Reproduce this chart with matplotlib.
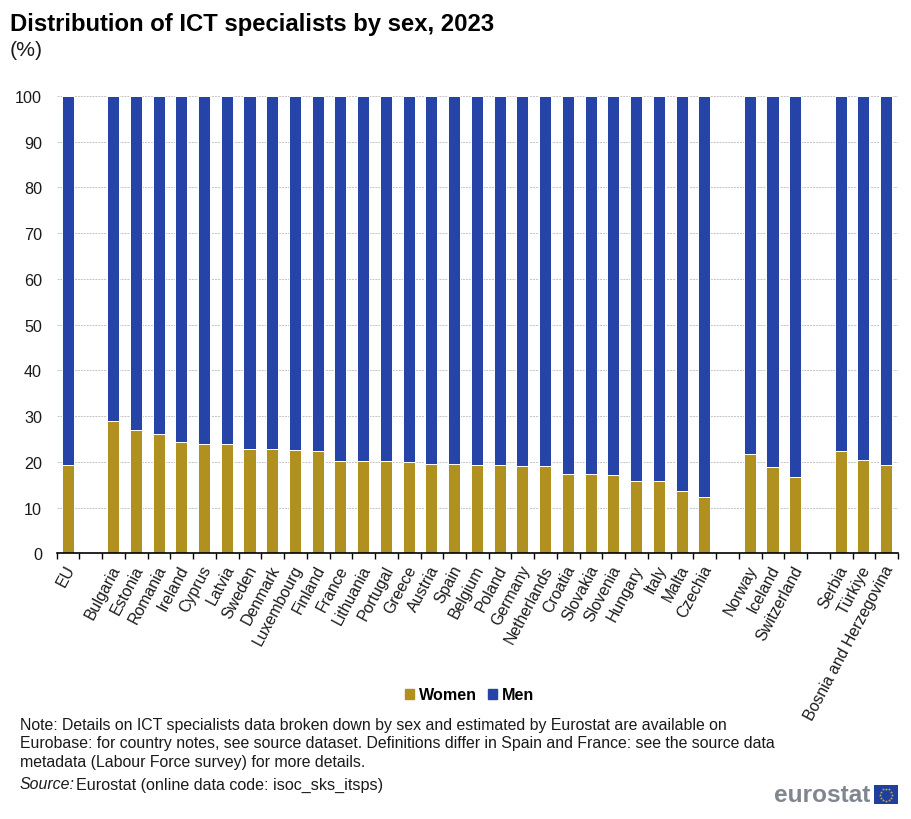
import matplotlib
matplotlib.use("Agg")
import matplotlib.pyplot as plt
from matplotlib.patches import Rectangle
from matplotlib.transforms import ScaledTranslation
import numpy as np

plt.rcParams['font.family'] = ['Liberation Sans', 'DejaVu Sans']

categories = ["EU", "", "Bulgaria", "Estonia", "Romania", "Ireland", "Cyprus", "Latvia", "Sweden",
              "Denmark", "Luxembourg", "Finland", "France", "Lithuania", "Portugal", "Greece",
              "Austria", "Spain", "Belgium", "Poland", "Germany", "Netherlands", "Croatia",
              "Slovakia", "Slovenia", "Hungary", "Italy", "Malta", "Czechia", "", "Norway",
              "Iceland", "Switzerland", "", "Serbia", "Türkiye", "Bosnia and Herzegovina"]
women = [19.4, None, 29.0, 26.9, 26.0, 24.4, 24.0, 24.0, 22.9, 22.7, 22.5, 22.3, 20.1, 20.1, 20.1,
         19.9, 19.6, 19.6, 19.4, 19.2, 19.0, 19.0, 17.4, 17.4, 17.2, 15.7, 15.7, 13.7, 12.4, None,
         21.8, 18.8, 16.6, None, 22.3, 20.5, 19.4]
y_ticks = [0, 10, 20, 30, 40, 50, 60, 70, 80, 90, 100]
GOLD = "#B09120"
BLUE = "#2644A7"
W, H = 912, 820

fig = plt.figure(figsize=(W / 100, H / 100), dpi=100, facecolor="white")
ax = fig.add_axes([56.7 / W, 1 - 554.3 / H, (898 - 56.7) / W, (554.3 - 96.8) / H])

idx = np.array([i for i, v in enumerate(women) if v is not None])
w = np.array([v for v in women if v is not None])
m = 100 - w
ax.bar(idx - 0.02, w, width=0.53, color=GOLD, edgecolor="white", linewidth=0.7, zorder=3)
ax.bar(idx - 0.02, m, bottom=w, width=0.53, color=BLUE, edgecolor="white", linewidth=0.7, zorder=3)

ax.set_xlim(-0.5, len(categories) - 0.5)
ax.set_ylim(0, 100)
ax.set_yticks(y_ticks)
ax.yaxis.grid(True, color="#C4C4C4", linestyle=(0, (2, 1)), linewidth=0.7, zorder=0)
ax.set_axisbelow(True)
ax.tick_params(axis="y", length=0, labelsize=11.6, pad=10.5, colors="#1a1a1a")
for s in ["top", "right", "left"]:
    ax.spines[s].set_visible(False)
ax.spines["bottom"].set_linewidth(1.2)
ax.spines["bottom"].set_color("black")
ax.spines["bottom"].set_zorder(6)

ax.set_xticks(np.arange(len(categories) + 1) - 0.5)
ax.set_xticklabels([])
ax.tick_params(axis="x", which="major", length=4, width=1, color="black")
ax.set_xticks(np.arange(len(categories)), minor=True)
labels = ax.set_xticklabels(categories, minor=True, rotation=62, ha="right", va="top",
                            rotation_mode="anchor", fontsize=11.4, color="#1a1a1a")
ax.tick_params(axis="x", which="minor", length=0, pad=6.5)
shift = ScaledTranslation(-3.5 / 100, 0, fig.dpi_scale_trans)
for lab in labels:
    lab.set_transform(lab.get_transform() + shift)

fig.text(10 / W, 1 - 24.5 / H, "Distribution of ICT specialists by sex, 2023", fontsize=17.2,
         fontweight="bold", va="center", ha="left", color="black")
fig.text(10 / W, 1 - 50 / H, "(%)", fontsize=15.3, va="center", ha="left", color="#1a1a1a")

handles = [Rectangle((0, 0), 1, 1, color=GOLD), Rectangle((0, 0), 1, 1, color=BLUE)]
fig.legend(handles, ["Women", "Men"], loc="center", bbox_to_anchor=(469.5 / W, 1 - 696 / H),
           ncol=2, frameon=False, prop={"weight": "bold", "size": 11.6}, handlelength=0.55,
           handleheight=0.55, handletextpad=0.3, columnspacing=0.7)

notes = ["Note: Details on ICT specialists data broken down by sex and estimated by Eurostat are available on",
         "Eurobase: for country notes, see source dataset. Definitions differ in Spain and France: see the source data",
         "metadata (Labour Force survey) for more details."]
for text, y, fs in zip(notes, [726, 744, 763], [11.46, 11.47, 11.4]):
    fig.text(20 / W, 1 - y / H, text, fontsize=fs, va="center", ha="left", color="#1a1a1a")
fig.text(20 / W, 1 - 785 / H, "Source:", fontsize=11.4, style="italic", va="center", ha="left", color="#1a1a1a")
fig.text(76 / W, 1 - 785 / H, "Eurostat (online data code: isoc_sks_itsps)", fontsize=11.6,
         va="center", ha="left", color="#1a1a1a")

fig.text(870 / W, 1 - 796 / H, "eurostat", fontsize=17.6, fontweight="bold", color="#808690",
         va="center", ha="right")
lg = fig.add_axes([874 / W, 1 - 805 / H, 24 / W, 19 / H])
lg.set_xlim(-12, 12); lg.set_ylim(-9.5, 9.5); lg.axis("off")
lg.add_patch(Rectangle((-12, -9.5), 24, 19, color="#1F3E9E"))
theta = np.arange(12) * np.pi / 6
lg.scatter(6 * np.cos(theta), 6 * np.sin(theta), marker="*", s=5, color="#C9B22E", linewidths=0)

fig.savefig("out.png", dpi=100)
